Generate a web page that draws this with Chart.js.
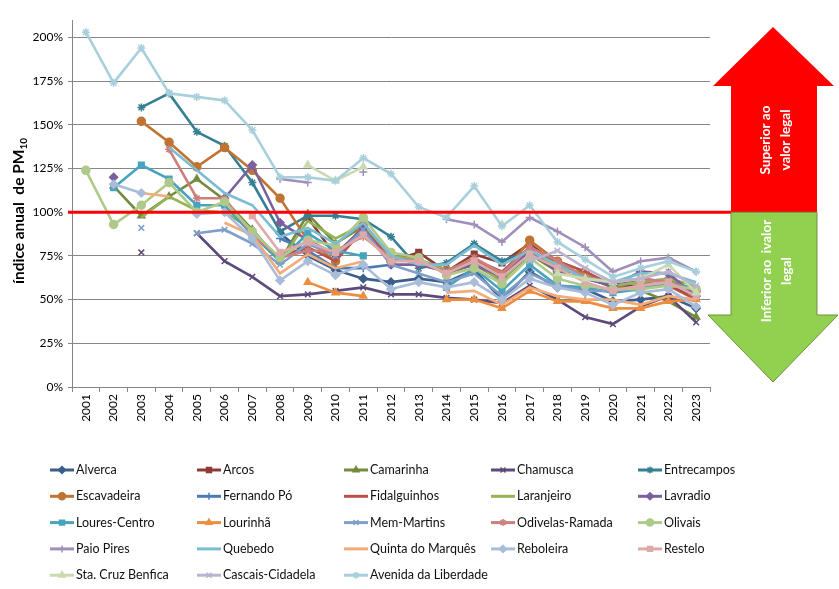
<!DOCTYPE html>
<html>
<head>
<meta charset="utf-8">
<script src="https://cdn.jsdelivr.net/npm/chart.js@4"></script>
<style>
  html, body { margin: 0; padding: 0; background: #fff; }
  #pm { display: block; }
</style>
</head>
<body>
<canvas id="pm" width="839" height="589"></canvas>
<script>
// ====== DADOS ======
const years = ['2001','2002','2003','2004','2005','2006','2007','2008','2009','2010','2011','2012',
               '2013','2014','2015','2016','2017','2018','2019','2020','2021','2022','2023'];

const yTicks = [0, 25, 50, 75, 100, 125, 150, 175, 200];
const legalLimit = 100;

const seriesNames = ['Alverca','Arcos','Camarinha','Chamusca','Entrecampos',
  'Escavadeira','Fernando Pó','Fidalguinhos','Laranjeiro','Lavradio',
  'Loures-Centro','Lourinhã','Mem-Martins','Odivelas-Ramada','Olivais',
  'Paio Pires','Quebedo','Quinta do Marquês','Reboleira','Restelo',
  'Sta. Cruz Benfica','Cascais-Cidadela','Avenida da Liberdade'];

const alverca      = [null,null,null,null,null,null,null,88,75,67,62,60,62,60,67,50,66,57,56,49,50,52,45];
const arcos        = [null,null,null,null,null,null,null,null,97,75,90,72,77,66,76,71,82,70,63,57,58,58,52];
const camarinha    = [null,115,98,109,119,107,90,72,99,82,92,73,72,65,70,61,76,66,66,58,55,49,40];
const chamusca     = [null,null,77,null,88,72,63,52,53,55,57,53,53,51,50,48,58,50,40,36,46,52,37];
const entrecampos  = [null,null,160,168,146,138,117,89,98,98,96,86,68,71,82,72,78,70,62,58,62,60,56];
const escavadeira  = [null,null,152,140,126,137,124,108,84,72,93,72,73,67,72,64,84,72,66,57,56,61,55];
const fernandoPo   = [null,null,null,null,null,null,null,85,78,68,68,70,null,null,null,null,null,null,null,null,null,null,null];
const fidalguinhos = [null,null,null,null,null,null,null,75,80,72,90,74,73,65,73,66,80,72,66,58,60,58,50];
const laranjeiro   = [null,null,97,109,101,100,90,72,95,85,93,75,73,67,72,60,78,68,64,58,60,62,58];
const lavradio     = [null,120,null,null,null,108,127,94,84,76,91,70,70,66,70,63,78,66,62,58,66,65,52];
const louresCentro = [null,114,127,119,104,104,87,72,88,78,75,null,null,57,68,55,70,58,57,54,56,60,56];
const lourinha     = [null,null,null,null,null,null,null,null,60,54,52,null,null,50,50,45,55,49,49,45,45,49,50];
const memMartins   = [null,null,91,null,88,90,82,70,82,75,90,70,65,60,65,52,65,58,55,55,58,60,52];
const odivelas     = [null,null,null,136,108,108,87,74,78,78,86,74,72,66,74,65,80,72,63,60,62,60,55];
const olivais      = [124,93,104,117,100,106,89,74,84,81,97,77,74,64,68,59,74,62,58,56,56,58,56];
const paioPires    = [null,null,null,null,null,null,null,119,117,null,123,null,null,96,93,83,97,89,80,66,72,74,66];
const quebedo      = [null,null,null,137,124,111,104,86,91,82,94,75,70,70,81,70,78,70,62,60,65,65,60];
const quintaMarques= [null,null,111,109,null,94,87,65,76,68,72,null,null,54,55,47,57,52,50,50,47,52,50];
const reboleira    = [null,116,111,null,99,100,85,61,72,64,70,56,60,57,60,50,62,57,54,47,54,56,46];
const restelo      = [null,null,null,null,null,null,98,77,83,77,87,72,72,65,72,63,76,68,60,55,58,60,52];
const staCruz      = [null,null,null,null,null,null,null,null,127,118,126,null,null,null,null,93,null,65,62,60,62,70,54];
const cascais      = [null,null,null,null,null,null,null,null,null,null,null,null,null,null,null,null,72,78,68,60,62,66,58];
const avenida      = [203,174,194,168,166,164,147,120,120,118,131,122,103,97,115,92,104,83,73,63,68,72,66];

const seriesValues = [alverca, arcos, camarinha, chamusca, entrecampos,
  escavadeira, fernandoPo, fidalguinhos, laranjeiro, lavradio,
  louresCentro, lourinha, memMartins, odivelas, olivais,
  paioPires, quebedo, quintaMarques, reboleira, restelo,
  staCruz, cascais, avenida];

// ====== ESTILOS (paleta Excel) ======
const seriesColors = ['#3B5E8C','#8E3B37','#748A3E','#5D4A7A','#357F92',
  '#C07433','#4A7DB8','#B9504C','#94B356','#7B5F9F',
  '#47A3BE','#EB8E3F','#7F9FC9','#CC7F7D','#AFC98A',
  '#9F8FBA','#7BBCD3','#F4AB78','#A9BDDA','#DCAAA9',
  '#C9DAB0','#BDB2CF','#A8CFDC'];
const seriesMarkers = ['rectRot','rect','triangle','crossRot','star',
  'circle','cross',null,null,'rectRot',
  'rect','triangle','crossRot','star','circle',
  'cross',null,null,'rectRot','rect',
  'triangle','crossRot','star'];

const FONT = 'Lato, "Open Sans", sans-serif';

const datasets = seriesNames.map((name, i) => ({
  label: name,
  data: seriesValues[i],
  borderColor: seriesColors[i],
  backgroundColor: seriesColors[i],
  pointBackgroundColor: seriesColors[i],
  pointBorderColor: seriesColors[i],
  pointStyle: seriesMarkers[i] || 'circle',
  pointRadius: seriesMarkers[i] ? 4 : 0,
  pointBorderWidth: 1.5,
  borderWidth: 2.6,
  tension: 0,
  spanGaps: false,
  order: seriesNames.length - i
}));

// ====== PLUGIN: linha legal, setas, título Y, legenda ======
const extras = {
  id: 'extras',
  afterDatasetsDraw(chart) {
    const { ctx } = chart;
    const y = chart.scales.y.getPixelForValue(legalLimit);
    ctx.save();
    ctx.strokeStyle = '#FF0000';
    ctx.lineWidth = 3;
    ctx.beginPath();
    ctx.moveTo(68, y);
    ctx.lineTo(732, y);
    ctx.stroke();
    ctx.restore();
  },
  afterDraw(chart) {
    const { ctx } = chart;
    const yMid = chart.scales.y.getPixelForValue(legalLimit);
    ctx.save();

    // seta vermelha (superior)
    ctx.fillStyle = '#FF0000';
    ctx.beginPath();
    ctx.moveTo(773, 27);
    ctx.lineTo(834, 86);
    ctx.lineTo(817, 86);
    ctx.lineTo(817, yMid);
    ctx.lineTo(731, yMid);
    ctx.lineTo(731, 86);
    ctx.lineTo(713, 86);
    ctx.closePath();
    ctx.fill();

    // seta verde (inferior)
    ctx.fillStyle = '#92D050';
    ctx.strokeStyle = '#6E8F3C';
    ctx.lineWidth = 1;
    ctx.beginPath();
    ctx.moveTo(731, yMid);
    ctx.lineTo(817, yMid);
    ctx.lineTo(817, 315);
    ctx.lineTo(838, 315);
    ctx.lineTo(773, 382);
    ctx.lineTo(708, 315);
    ctx.lineTo(731, 315);
    ctx.closePath();
    ctx.fill();
    ctx.stroke();

    // textos das setas
    ctx.fillStyle = '#FFFFFF';
    ctx.font = 'bold 13.5px ' + FONT;
    ctx.textAlign = 'center';
    ctx.textBaseline = 'middle';
    ctx.translate(776, 140);
    ctx.rotate(-Math.PI / 2);
    ctx.fillText('Superior ao', 0, -10);
    ctx.fillText('valor legal', 0, 10);
    ctx.setTransform(1, 0, 0, 1, 0, 0);
    ctx.translate(777, 271);
    ctx.rotate(-Math.PI / 2);
    ctx.fillText('Inferior ao  ivalor', 0, -10);
    ctx.fillText('legal', 0, 10);
    ctx.setTransform(1, 0, 0, 1, 0, 0);

    // título do eixo Y com subscrito
    ctx.fillStyle = '#000';
    ctx.translate(19, 211);
    ctx.rotate(-Math.PI / 2);
    const main = 'índice anual  de PM';
    ctx.font = 'bold 15.5px ' + FONT;
    const w1 = ctx.measureText(main).width;
    ctx.font = 'bold 10px ' + FONT;
    const w2 = ctx.measureText('10').width;
    const sx = -(w1 + w2) / 2;
    ctx.textAlign = 'left';
    ctx.textBaseline = 'alphabetic';
    ctx.font = 'bold 15.5px ' + FONT;
    ctx.fillText(main, sx, 5);
    ctx.font = 'bold 10px ' + FONT;
    ctx.fillText('10', sx + w1, 8);
    ctx.setTransform(1, 0, 0, 1, 0, 0);

    // legenda (5 colunas)
    ctx.font = '12.5px ' + FONT;
    ctx.textBaseline = 'middle';
    chart.data.datasets.forEach((ds, i) => {
      const col = i % 5, row = Math.floor(i / 5);
      const x0 = 50 + col * 147;
      const ly = 470 + row * 26.3;
      ctx.strokeStyle = ds.borderColor;
      ctx.lineWidth = 3;
      ctx.beginPath();
      ctx.moveTo(x0, ly);
      ctx.lineTo(x0 + 24, ly);
      ctx.stroke();
      if (ds.pointRadius > 0) {
        ctx.fillStyle = ds.borderColor;
        ctx.lineWidth = 1.5;
        Chart.helpers.drawPoint(ctx, { pointStyle: ds.pointStyle, radius: 3.5, borderWidth: 1.5, rotation: 0 }, x0 + 12, ly);
      }
      ctx.fillStyle = '#111';
      ctx.fillText(ds.label, x0 + 26, ly);
    });
    ctx.restore();
  }
};

new Chart(document.getElementById('pm'), {
  type: 'line',
  data: { labels: years, datasets: datasets },
  options: {
    responsive: false,
    animation: false,
    layout: { padding: { left: 0, right: 129, top: 20, bottom: 167 } },
    plugins: {
      legend: { display: false },
      tooltip: { enabled: false }
    },
    scales: {
      x: {
        offset: true,
        grid: { display: true, drawOnChartArea: false, offset: true, tickLength: 5, color: '#868686' },
        border: { display: true, color: '#868686' },
        ticks: { minRotation: 90, maxRotation: 90, color: '#000', font: { family: FONT, size: 12 }, padding: 2 },
        afterFit: s => { s.height = 35; }
      },
      y: {
        min: 0,
        max: 210,
        grid: { color: '#868686', tickLength: 4 },
        border: { display: true, color: '#868686' },
        ticks: {
          stepSize: 25,
          color: '#000',
          padding: 5,
          font: { family: FONT, size: 12 },
          callback: v => v + '%'
        },
        afterBuildTicks: s => { s.ticks = yTicks.map(v => ({ value: v })); },
        afterFit: s => { s.width = 72; }
      }
    }
  },
  plugins: [extras]
});
</script>
</body>
</html>
